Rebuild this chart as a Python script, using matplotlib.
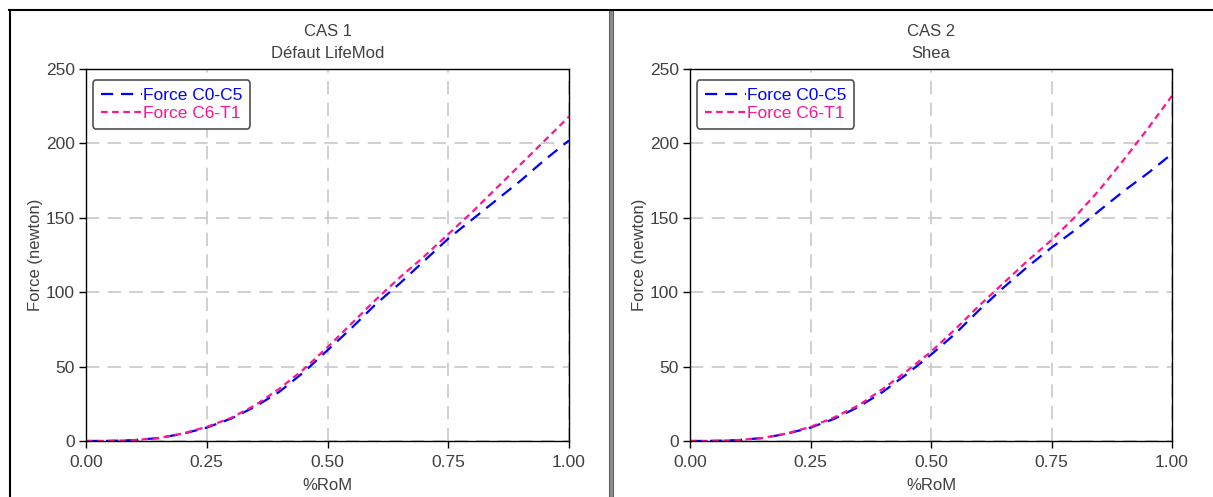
import matplotlib
matplotlib.use("Agg")
import matplotlib.pyplot as plt
from matplotlib.lines import Line2D
from matplotlib.patches import Rectangle

plt.rcParams['font.family'] = ['Liberation Sans', 'DejaVu Sans']

rom = [0, 0.05, 0.1, 0.15, 0.2, 0.25, 0.3, 0.35, 0.4, 0.45, 0.5,
       0.55, 0.6, 0.65, 0.7, 0.75, 0.8, 0.85, 0.9, 0.95, 1.0]

cas1_c0c5 = [0, 0.1, 0.6, 2, 4.8, 9, 15, 23, 33, 46, 61,
             76, 92, 106, 121, 136, 149, 162, 175, 189, 202]
cas1_c6t1 = [0, 0.1, 0.6, 2, 5, 9.5, 15.5, 24, 35, 48, 63,
             79, 95, 110, 124, 139, 154, 170, 186, 202, 218]

cas2_c0c5 = [0, 0.1, 0.6, 2, 4.8, 9, 15, 23, 33, 45, 58,
             72, 88, 103, 117, 130, 142, 155, 168, 180, 193]
cas2_c6t1 = [0, 0.1, 0.6, 2, 5, 9.5, 16, 24, 35, 47, 60,
             75, 91, 106, 121, 135, 151, 169, 189, 210, 232]

titles = [("CAS 1", "Défaut LifeMod"), ("CAS 2", "Shea")]
series_names = ["Force C0-C5", "Force C6-T1"]
xticks = [0.0, 0.25, 0.5, 0.75, 1.0]
xticklabels = ["0.00", "0.25", "0.50", "0.75", "1.00"]
yticks = [0, 50, 100, 150, 200, 250]

W, H = 1213, 497
fig = plt.figure(figsize=(W / 100, H / 100), dpi=100)
fig.patch.set_facecolor("white")

def fx(px):
    return px / W

def fy(py):
    return 1 - py / H

TXT = "#404040"
BLUE = "#0000ff"
PINK = "#ff1493"

panels = [
    (86, 569, cas1_c0c5, cas1_c6t1, titles[0]),
    (690, 1172, cas2_c0c5, cas2_c6t1, titles[1]),
]

for x0, x1, s1, s2, (t1, t2) in panels:
    ax = fig.add_axes([fx(x0), fy(441), (x1 - x0) / W, (441 - 69) / H])
    ax.plot(rom, s1, color=BLUE, lw=1.6, dashes=(5.5, 3.5), label=series_names[0])
    ax.plot(rom, s2, color=PINK, lw=1.6, dashes=(3, 2), label=series_names[1])
    ax.set_xlim(0, 1)
    ax.set_ylim(0, 250)
    ax.set_xticks(xticks)
    ax.set_xticklabels(xticklabels)
    ax.set_yticks(yticks)
    ax.tick_params(direction="out", length=5, width=1, colors="black",
                   labelcolor=TXT, labelsize=12.5)
    ax.tick_params(axis="x", pad=5)
    ax.tick_params(axis="y", pad=3)
    ax.grid(True, color="#c8c8c8", lw=1.2, dashes=(8, 5))
    for sp in ax.spines.values():
        sp.set_color("black")
        sp.set_linewidth(1)
    ax.set_xlabel("%RoM", color=TXT, fontsize=12, labelpad=6)
    ax.set_ylabel("Force (newton)", color=TXT, fontsize=12, labelpad=2)
    cx = (x0 + x1) / 2
    fig.text(fx(cx), fy(32), t1, ha="center", va="center", color=TXT, fontsize=12)
    fig.text(fx(cx), fy(53), t2, ha="center", va="center", color=TXT, fontsize=12)
    leg = ax.legend(loc="upper left", bbox_to_anchor=(0.014, 0.97), fontsize=12.5,
                    frameon=True, fancybox=True, handlelength=2.4, handletextpad=0.05,
                    borderpad=0.45, labelspacing=0.15, borderaxespad=0,
                    framealpha=1)
    leg.get_frame().set_edgecolor("#505050")
    leg.get_frame().set_linewidth(1.2)
    for txt, c in zip(leg.get_texts(), [BLUE, PINK]):
        txt.set_color(c)

# panel borders
fig.add_artist(Line2D([fx(9), 1], [fy(10), fy(10)], color="black", lw=1.5))
fig.add_artist(Line2D([fx(9.5), fx(9.5)], [fy(10), 0], color="black", lw=1.5))
fig.add_artist(Rectangle((fx(609), 0), 4 / W, fy(10), facecolor="#8c8c8c",
                         edgecolor="#606060", lw=0.8))

fig.savefig("out.png", dpi=100)
